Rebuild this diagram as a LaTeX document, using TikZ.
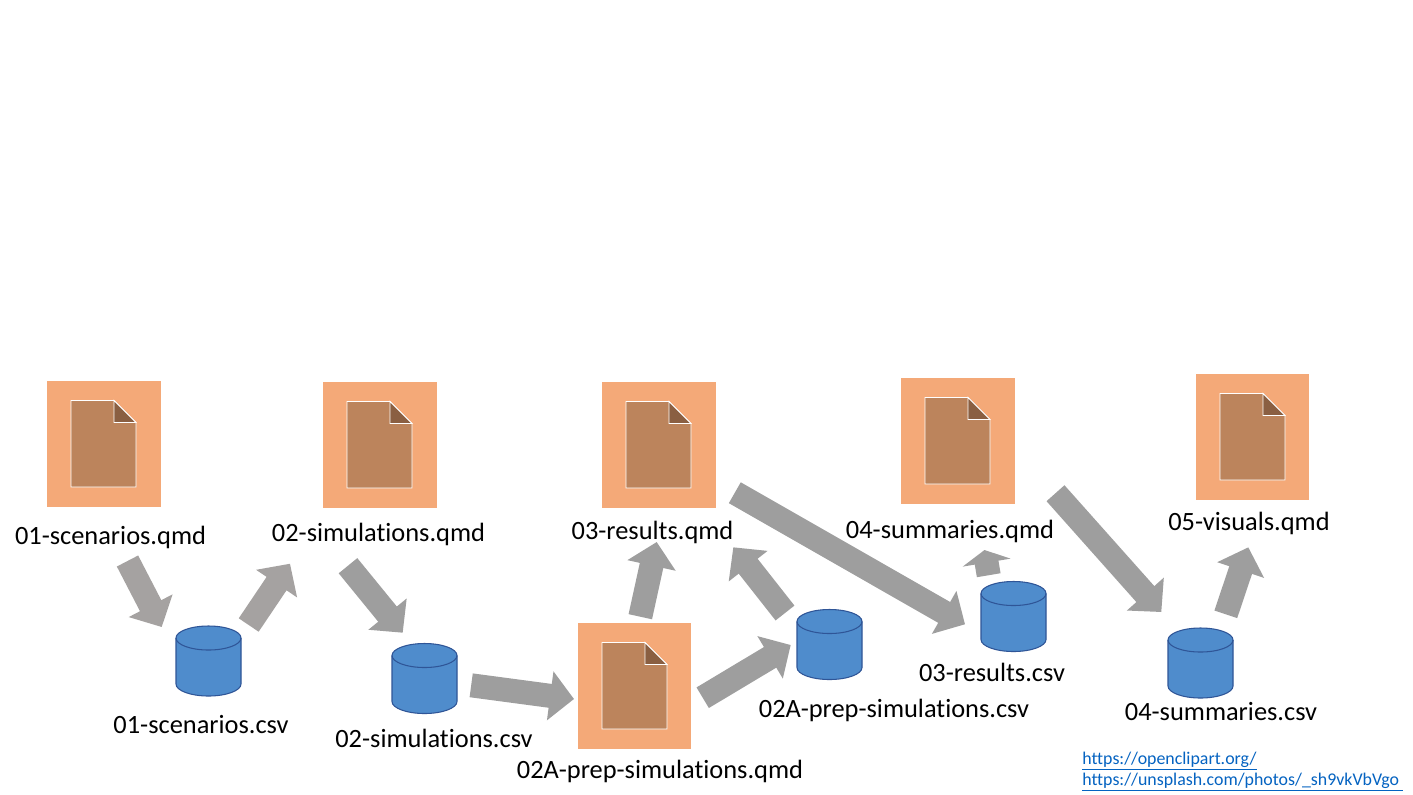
\documentclass[tikz,border=0pt]{standalone}
\usepackage{fontspec}
\setmainfont[Ligatures=NoCommon]{Carlito}
\usetikzlibrary{arrows.meta}
\definecolor{tilec}{HTML}{F4A978}
\definecolor{docc}{HTML}{BC845C}
\definecolor{foldc}{HTML}{8A5F42}
\definecolor{cylc}{HTML}{4F8CCC}
\definecolor{cyle}{HTML}{2F5597}
\definecolor{arrA}{HTML}{A5A2A1}
\definecolor{arrB}{HTML}{9E9E9E}
\definecolor{linkc}{HTML}{0563C1}
\tikzset{
  tile/.style={fill=tilec,draw=none,inner sep=0pt,anchor=north west,minimum width=85.5pt,minimum height=94pt},
  narrowtile/.style={minimum width=84.75pt},
  docpage/.style={fill=docc,draw=white,line width=0.7pt,line join=miter},
  docfold/.style={fill=foldc,draw=white,line width=0.7pt,line join=miter},
  storebox/.style={draw=none,inner sep=0pt,minimum width=48.75pt,minimum height=52.5pt,anchor=center},
  storebody/.style={fill=cylc,draw=cyle,line width=0.8pt},
  storerim/.style={draw=cyle,line width=0.8pt},
  lbl/.style={font=\fontsize{19.8}{23}\selectfont,anchor=base,inner sep=0pt,text=black},
  linktxt/.style={font=\fontsize{13.4}{16}\selectfont,anchor=base west,inner sep=0pt,text=linkc},
  flow/.style={line width=18pt,draw=arrB,-{Triangle[length=18pt,width=36pt,fill=arrB]}},
  flowA/.style={flow,draw=arrA,-{Triangle[length=18pt,width=36pt,fill=arrA]}},
  flowshort/.style={flow,-{Triangle[length=9.6pt,width=36pt,fill=arrB]}},
}
\newcommand{\doctile}[4][]{% style, name, x, y of tile top-left
  \node[tile,#1] (#2) at (#3,#4) {};
  \begin{scope}[shift={(#3,#4)}]
    \draw[docpage] (24,19.5) -- (67,19.5) -- (89,41.5) -- (89,106) -- (24,106) -- cycle;
    \draw[docfold] (67,19.5) -- (89,41.5) -- (67,41.5) -- cycle;
  \end{scope}
}
\newcommand{\datastore}[3]{% name, centre x, centre y
  \node[storebox] (#1) at (#2,#3) {};
  \begin{scope}[shift={(#2,#3)}]
    \draw[storebody] (-32.5,-23) .. controls +(0,-6.6) and +(-18,0) .. (0,-35)
      .. controls +(18,0) and +(0,-6.6) .. (32.5,-23) -- (32.5,23)
      .. controls +(0,6.6) and +(18,0) .. (0,35)
      .. controls +(-18,0) and +(0,6.6) .. (-32.5,23) -- cycle;
    \draw[storerim] (-32.5,-23) .. controls +(0,6.6) and +(-18,0) .. (0,-11)
      .. controls +(18,0) and +(0,6.6) .. (32.5,-23);
  \end{scope}
}
\begin{document}
\begin{tikzpicture}[x=0.75pt,y=-0.75pt]
\useasboundingbox (0,0) rectangle (1413,794);
\fill[white] (0,0) rectangle (1413,794);
% document tiles
\doctile{q1}{47}{381}
\doctile{q2}{323}{382}
\doctile{q3}{602}{382}
\doctile{q4}{901}{378}
\doctile[narrowtile]{q5}{1196}{374}
\doctile[narrowtile]{q2a}{578}{623}
% data stores
\datastore{c1}{208.5}{661}
\datastore{c2}{424.5}{678.5}
\datastore{c2a}{829.5}{644.5}
\datastore{c3}{1013.5}{616.5}
\datastore{c4}{1200.5}{663}
% labels
\node[lbl] (l1) at (110.5,544) {01-scenarios.qmd};
\node[lbl] (l2) at (378.5,541) {02-simulations.qmd};
\node[lbl] (l3) at (652.5,539) {03-results.qmd};
\node[lbl] (l4) at (950,538) {04-summaries.qmd};
\node[lbl] (l5) at (1249,530) {05-visuals.qmd};
\node[lbl] (l6) at (201,733) {01-scenarios.csv};
\node[lbl] (l7) at (434,747) {02-simulations.csv};
\node[lbl] (l8) at (660,778) {02A-prep-simulations.qmd};
\node[lbl] (l9) at (894,717) {02A-prep-simulations.csv};
\node[lbl] (l10) at (992,681) {03-results.csv};
\node[lbl] (l11) at (1221,720) {04-summaries.csv};
\node[linktxt] (u1) at (1082,764) {\underline{https://openclipart.org/}};
\node[linktxt] (u2) at (1082,785) {\underline{https://unsplash.com/photos/\_sh9vkVbVgo\ }};
% connector ends
\coordinate (a1s) at (127.5,561);   \coordinate (a1e) at (161.7,627);
\coordinate (a2s) at (248.7,625);   \coordinate (a2e) at (290,563.7);
\coordinate (a3s) at (348,565.7);   \coordinate (a3e) at (402.7,632.7);
\coordinate (a4s) at (471.2,685.3); \coordinate (a4e) at (574,699);
\coordinate (a5s) at (702.7,697.7); \coordinate (a5e) at (790.7,645);
\coordinate (a6s) at (640.3,616.7); \coordinate (a6e) at (656.7,542);
\coordinate (a7s) at (785,613);     \coordinate (a7e) at (733.3,547.3);
\coordinate (a8s) at (734.8,492.7); \coordinate (a8e) at (965,624.3);
\coordinate (a9s) at (988.7,575.2); \coordinate (a9e) at (984.5,550);
\coordinate (a10s) at (1055.5,493.2); \coordinate (a10e) at (1161.3,612);
\coordinate (a11s) at (1225.8,614.3); \coordinate (a11e) at (1248.3,547.3);
% connectors
\draw[flowA] (a1s) -- (a1e);
\draw[flowA] (a2s) -- (a2e);
\draw[flow] (a3s) -- (a3e);
\draw[flow] (a4s) -- (a4e);
\draw[flow] (a5s) -- (a5e);
\draw[flow] (a6s) -- (a6e);
\draw[flow] (a7s) -- (a7e);
\draw[flow] (a8s) -- (a8e);
\draw[flowshort] (a9s) -- (a9e);
\draw[flow] (a10s) -- (a10e);
\draw[flow] (a11s) -- (a11e);
\end{tikzpicture}
\end{document}
